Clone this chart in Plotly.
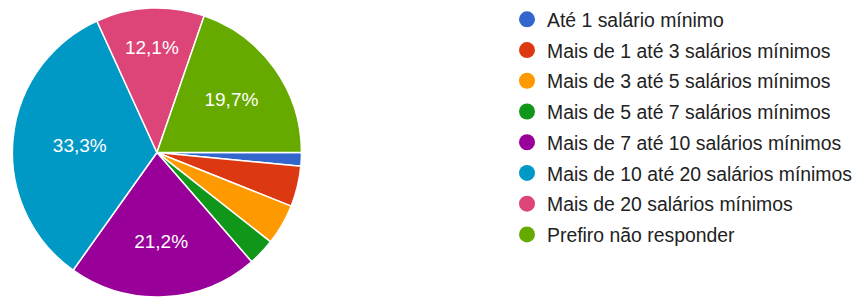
import plotly.graph_objects as go

categories = [
    "Até 1 salário mínimo",
    "Mais de 1 até 3 salários mínimos",
    "Mais de 3 até 5 salários mínimos",
    "Mais de 5 até 7 salários mínimos",
    "Mais de 7 até 10 salários mínimos",
    "Mais de 10 até 20 salários mínimos",
    "Mais de 20 salários mínimos",
    "Prefiro não responder",
]
counts = [1, 3, 3, 2, 14, 22, 8, 13]
colors = ["#3366cc", "#dc3912", "#ff9900", "#109618", "#990099", "#0099c6", "#dd4477", "#66aa00"]

total = sum(counts)
templates = ["%{percent:.1%}" if c / total >= 0.05 else "" for c in counts]

FONT = "Arial, Liberation Sans, sans-serif"

fig = go.Figure()
fig.add_trace(go.Pie(
    labels=categories,
    values=counts,
    sort=False,
    direction="clockwise",
    rotation=90,
    marker=dict(colors=colors, line=dict(color="white", width=1.5)),
    texttemplate=templates,
    textposition="inside",
    insidetextorientation="horizontal",
    textfont=dict(color="white", size=19, family=FONT),
    showlegend=False,
    hoverinfo="label+percent",
    domain=dict(x=[0.014, 0.3531], y=[0.0, 0.98]),
))

for i, (name, col) in enumerate(zip(categories, colors)):
    fig.add_trace(go.Scatter(
        x=[None], y=[None], mode="markers", name=name,
        marker=dict(color=col, size=20, symbol="circle"),
        legendgroup=f"g{i}", showlegend=True,
    ))

fig.update_layout(
    width=858, height=297,
    margin=dict(l=0, r=0, t=0, b=0),
    paper_bgcolor="white", plot_bgcolor="white",
    separators=",.",
    xaxis=dict(visible=False), yaxis=dict(visible=False),
    legend=dict(
        x=0.593, y=1.006, xanchor="left", yanchor="top",
        font=dict(size=19.4, color="#222222", family=FONT),
        tracegroupgap=2.5, itemsizing="trace", bgcolor="rgba(0,0,0,0)",
        maxheight=297,
    ),
)

fig.write_html("out.html", config={"displayModeBar": False},
               post_script="document.body.style.margin='0';")
